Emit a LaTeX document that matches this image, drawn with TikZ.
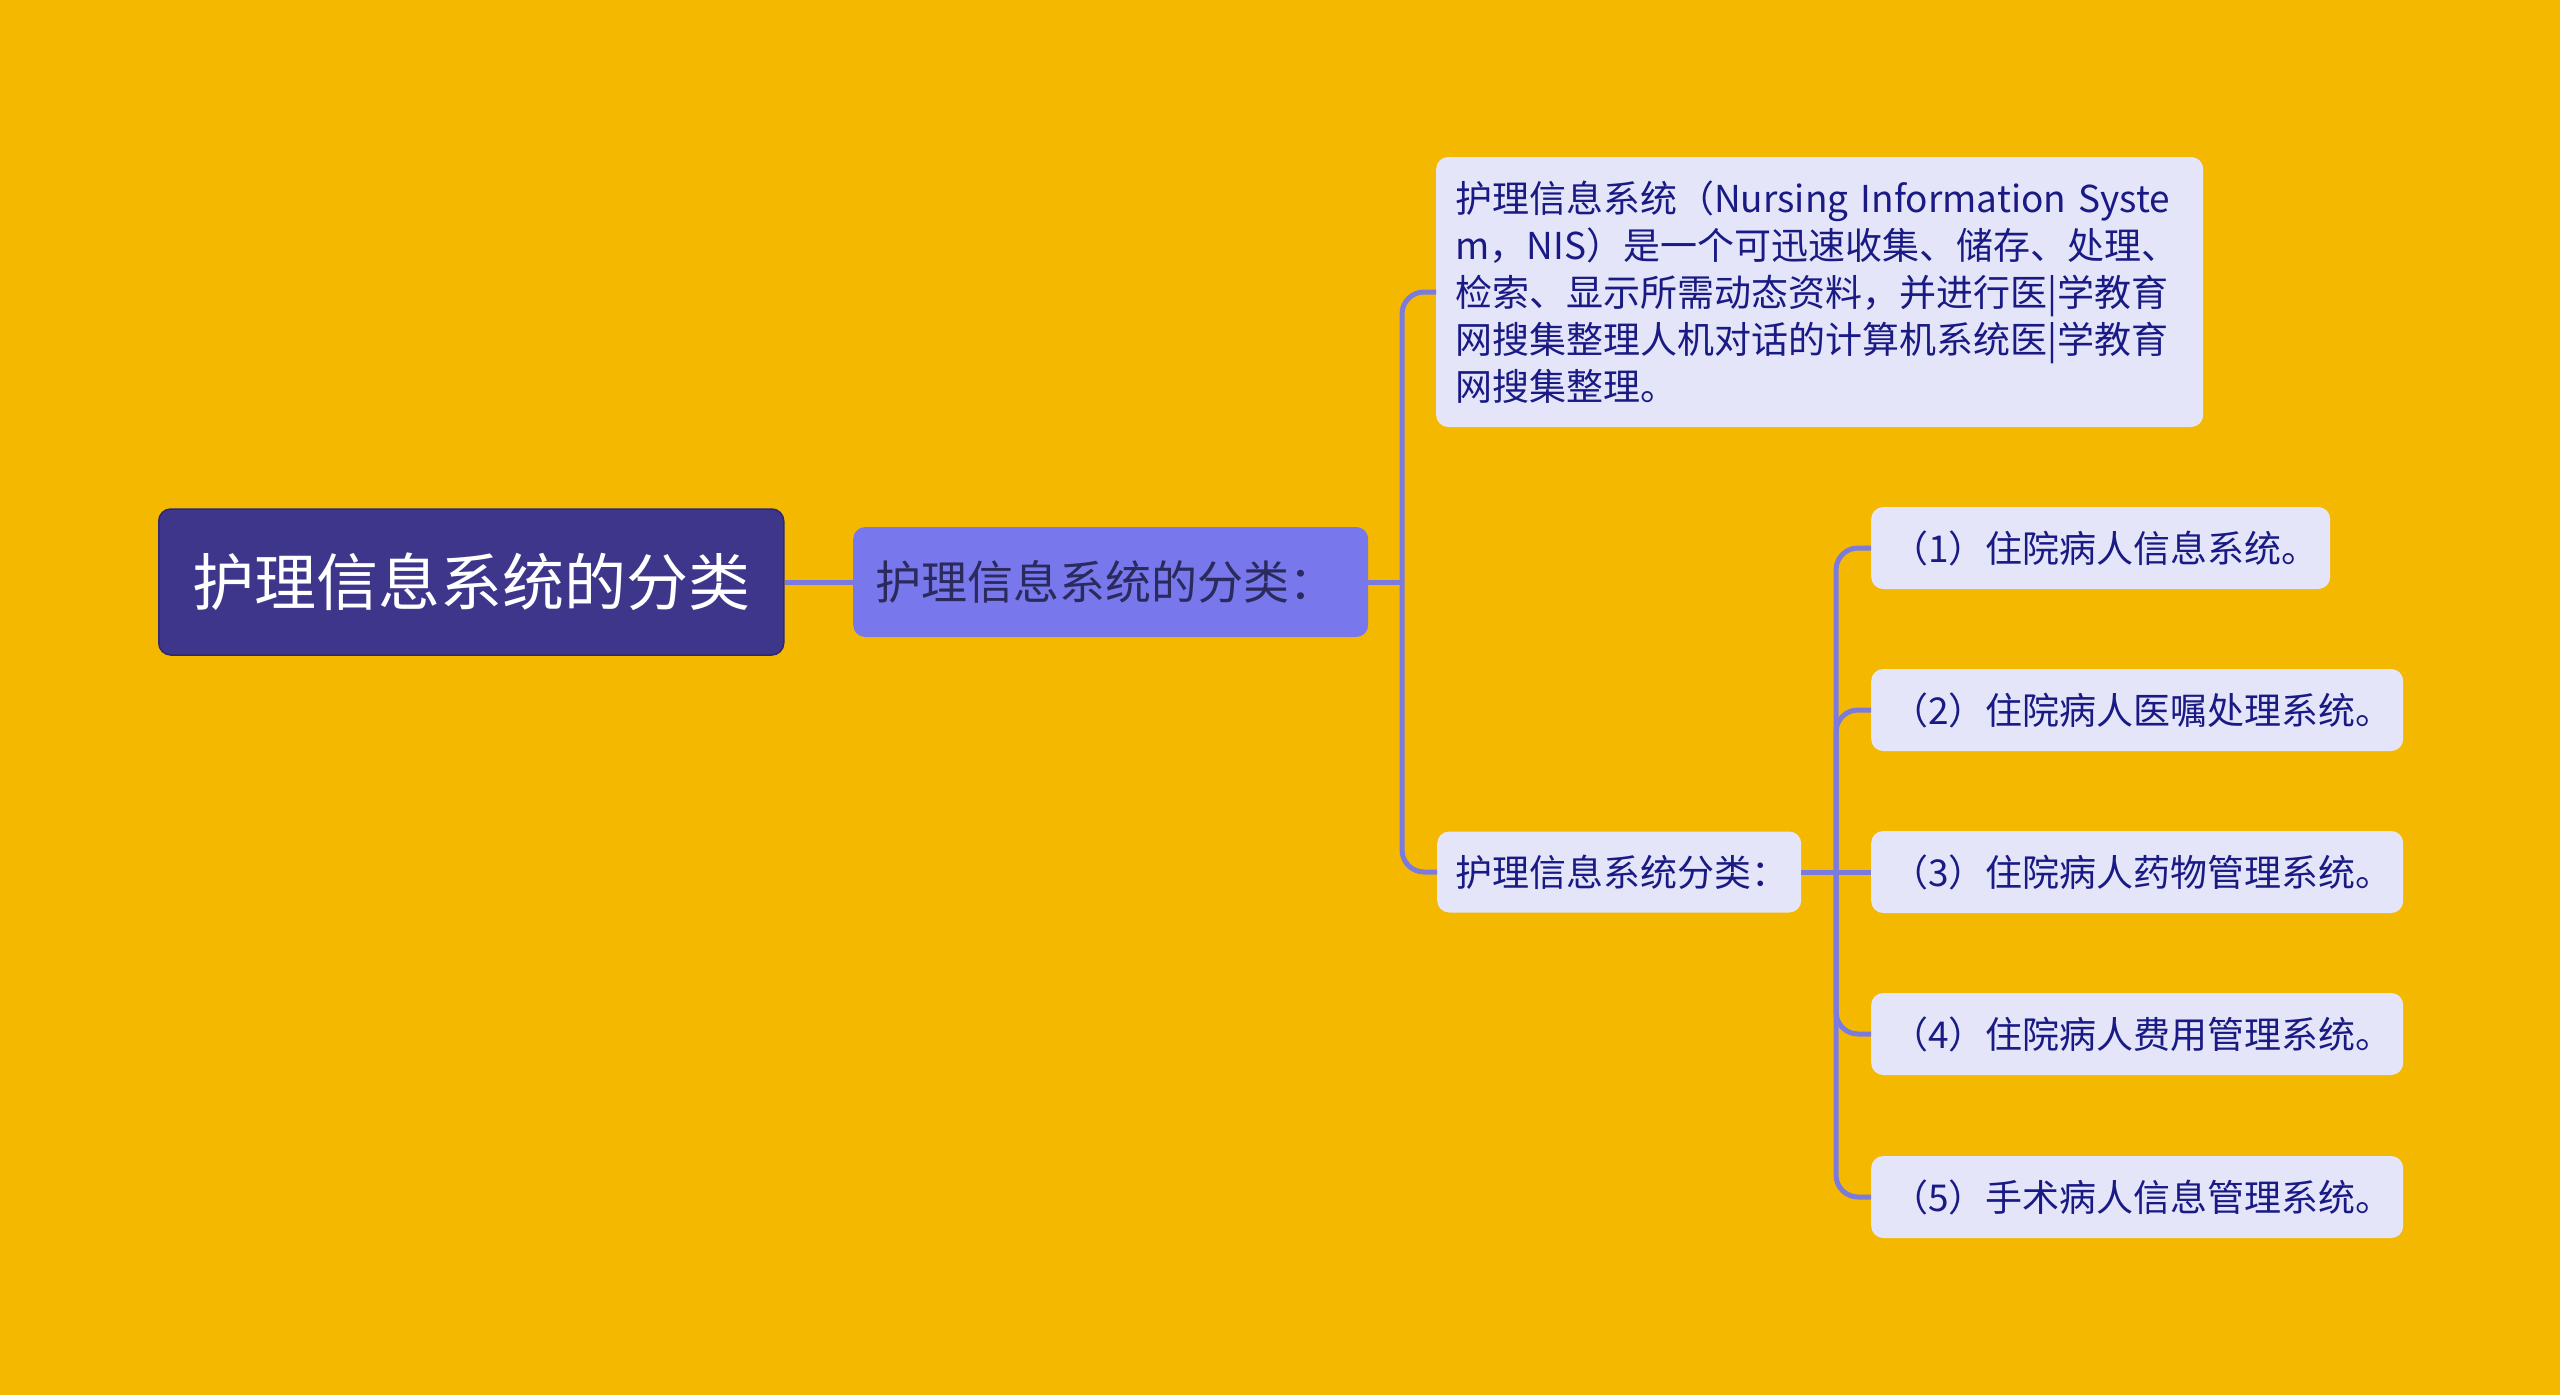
\documentclass[tikz,border=0pt]{standalone}
\usepackage{fontspec}
\setmainfont{Noto Sans CJK SC}
\definecolor{bg}{HTML}{F5B800}
\definecolor{rootfill}{HTML}{3E368A}
\definecolor{rootline}{HTML}{2D2870}
\definecolor{lonefill}{HTML}{7878EC}
\definecolor{lonetext}{HTML}{2A2A5C}
\definecolor{leaffill}{HTML}{E4E5F8}
\definecolor{leaftext}{HTML}{1A1A85}
\definecolor{conncol}{HTML}{7B7BDD}
\tikzset{
  conn/.style={draw=conncol, line width=5pt},
  rootbox/.style={fill=rootfill, draw=rootline, line width=1.5pt, rounded corners=12pt,
    text=white, font=\fontsize{62}{70}\selectfont, minimum width=625pt, minimum height=146pt,
    inner sep=0pt, anchor=west},
  lonebox/.style={fill=lonefill, rounded corners=12pt, text=lonetext,
    font=\fontsize{46}{54}\selectfont, minimum height=110pt, text width=471pt,
    inner xsep=22pt, inner ysep=0pt, align=left, anchor=west},
  leafbox/.style={fill=leaffill, rounded corners=12pt, text=leaftext,
    font=\fontsize{37}{47}\selectfont, inner ysep=0pt, align=left, anchor=west},
}
\begin{document}
\begin{tikzpicture}[x=1pt,y=-1pt]
\useasboundingbox[fill=bg] (0,0) rectangle (2560,1395);
\node[rootbox] (root) at (158,582) {护理信息系统的分类};
\node[lonebox] (l1) at (853,582) {护理信息系统的分类：};
\node[leafbox, minimum height=270pt, text width=729pt, inner xsep=19pt] (desc) at (1436,292)
  {护理信息系统（Nursing~Information~Syste\\
   m，NIS）是一个可迅速收集、储存、处理、\\
   检索、显示所需动态资料，并进行医|学教育\\
   网搜集整理人机对话的计算机系统医|学教育\\
   网搜集整理。};
\node[leafbox, minimum height=81pt, text width=328pt, inner xsep=18pt] (l2) at (1437,872) {护理信息系统分类：};
\node[leafbox, minimum height=82pt, text width=419pt, inner xsep=20pt] (i1) at (1871,548) {（1）住院病人信息系统。};
\node[leafbox, minimum height=82pt, text width=492pt, inner xsep=20pt] (i2) at (1871,710) {（2）住院病人医嘱处理系统。};
\node[leafbox, minimum height=82pt, text width=492pt, inner xsep=20pt] (i3) at (1871,872) {（3）住院病人药物管理系统。};
\node[leafbox, minimum height=82pt, text width=492pt, inner xsep=20pt] (i4) at (1871,1034) {（4）住院病人费用管理系统。};
\node[leafbox, minimum height=82pt, text width=492pt, inner xsep=20pt] (i5) at (1871,1197) {（5）手术病人信息管理系统。};
\coordinate (busa) at (1402,582);
\coordinate (busb) at (1836,872);
\draw[conn] (root.east) -- (l1.west);
\draw[conn] (l1.east) -- (busa);
\draw[conn, rounded corners=22pt] (busa) |- (desc.west);
\draw[conn, rounded corners=22pt] (busa) |- (l2.west);
\draw[conn] (l2.east) -- (i3.west);
\draw[conn, rounded corners=22pt] (busb) |- (i1.west);
\draw[conn, rounded corners=22pt] (busb) |- (i2.west);
\draw[conn, rounded corners=22pt] (busb) |- (i4.west);
\draw[conn, rounded corners=22pt] (busb) |- (i5.west);
\end{tikzpicture}
\end{document}
